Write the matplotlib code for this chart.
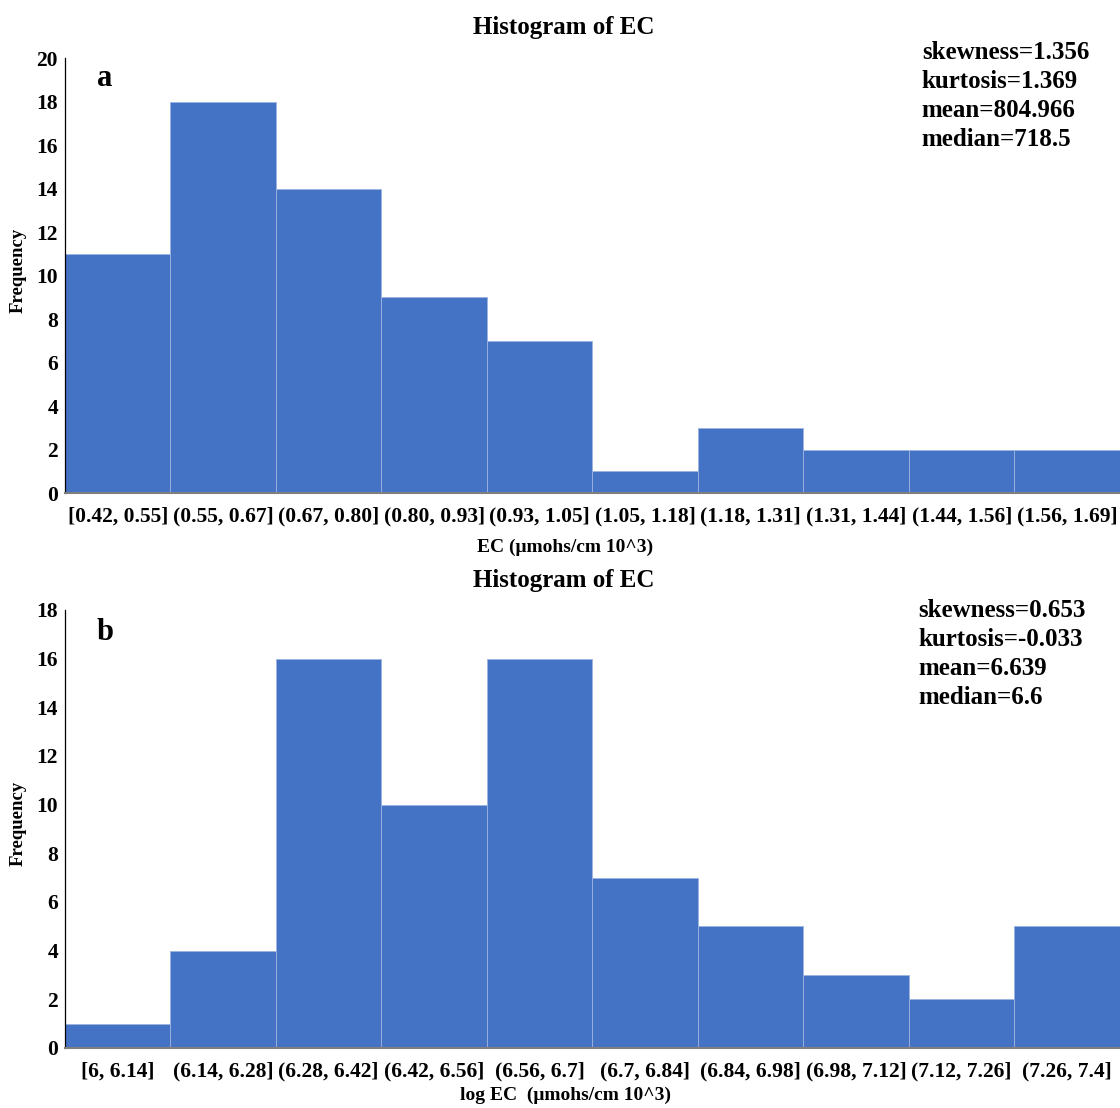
import matplotlib
matplotlib.use("Agg")
import matplotlib.pyplot as plt
import numpy as np

plt.rcParams['font.family'] = ['Liberation Serif', 'DejaVu Serif']
plt.rcParams['font.weight'] = 'bold'

labels_a = ["[0.42, 0.55]", "(0.55, 0.67]", "(0.67, 0.80]", "(0.80, 0.93]", "(0.93, 1.05]",
            "(1.05, 1.18]", "(1.18, 1.31]", "(1.31, 1.44]", "(1.44, 1.56]", "(1.56, 1.69]"]
freq_a = [11, 18, 14, 9, 7, 1, 3, 2, 2, 2]
stats_a = ["skewness=1.356", "kurtosis=1.369", "mean=804.966", "median=718.5"]

labels_b = ["[6, 6.14]", "(6.14, 6.28]", "(6.28, 6.42]", "(6.42, 6.56]", "(6.56, 6.7]",
            "(6.7, 6.84]", "(6.84, 6.98]", "(6.98, 7.12]", "(7.12, 7.26]", "(7.26, 7.4]"]
freq_b = [1, 4, 16, 10, 16, 7, 5, 3, 2, 5]
stats_b = ["skewness=0.653", "kurtosis=-0.033", "mean=6.639", "median=6.6"]

BAR = '#4472C4'
EDGE = '#9DB4E0'

fig = plt.figure(figsize=(11.2, 11.08), dpi=100)

def panel(rect, labels, freq, ymax, xlabel, stats, stats_xy, letter, letter_xy, title_y, xlabel_y, ylabel_y):
    ax = fig.add_axes(rect)
    x = np.arange(len(freq))
    ax.bar(x, freq, width=1.0, color=BAR, edgecolor=EDGE, linewidth=0.6)
    ax.set_xlim(-0.5, len(freq) - 0.5)
    ax.set_ylim(0, ymax)
    ax.set_yticks(np.arange(0, ymax + 1, 2))
    ax.set_xticks(x)
    ax.set_xticklabels(labels)
    ax.tick_params(axis='both', length=0, labelsize=15.5)
    ax.tick_params(axis='y', pad=5)
    ax.tick_params(axis='x', pad=10)
    for t in ax.get_xticklabels() + ax.get_yticklabels():
        t.set_fontweight('bold')
    ax.spines['top'].set_visible(False)
    ax.spines['right'].set_visible(False)
    ax.spines['left'].set_color('black')
    ax.spines['left'].set_linewidth(0.9)
    ax.spines['bottom'].set_color('#7F7F7F')
    ax.spines['bottom'].set_linewidth(1.5)
    fig.text(0.5036, title_y, "Histogram of EC", ha='center', va='center', fontsize=18, fontweight='bold')
    fig.text(0.5045, xlabel_y, xlabel, ha='center', va='center', fontsize=14, fontweight='bold')
    fig.text(0.016, ylabel_y, "Frequency", ha='center', va='center', rotation=90, fontsize=13.5, fontweight='bold')
    fig.text(letter_xy[0], letter_xy[1], letter, ha='left', va='center', fontsize=22, fontweight='bold')
    fig.text(stats_xy[0], stats_xy[1], "\n".join(stats), ha='left', va='top', fontsize=18,
             fontweight='bold', linespacing=1.34)
    return ax

panel([0.058, 0.555, 0.942, 0.3926], labels_a, freq_a, 20, "EC (\u03bcmohs/cm 10^3)",
      stats_a, (0.823, 0.9634), "a", (0.0866, 0.9296), 0.9756, 0.5063, 0.756)
panel([0.058, 0.0542, 0.942, 0.3953], labels_b, freq_b, 18, "log EC  (\u03bcmohs/cm 10^3)",
      stats_b, (0.820, 0.4594), "b", (0.0866, 0.4296), 0.4765, 0.0115, 0.257)

fig.savefig("out.png", dpi=100)
